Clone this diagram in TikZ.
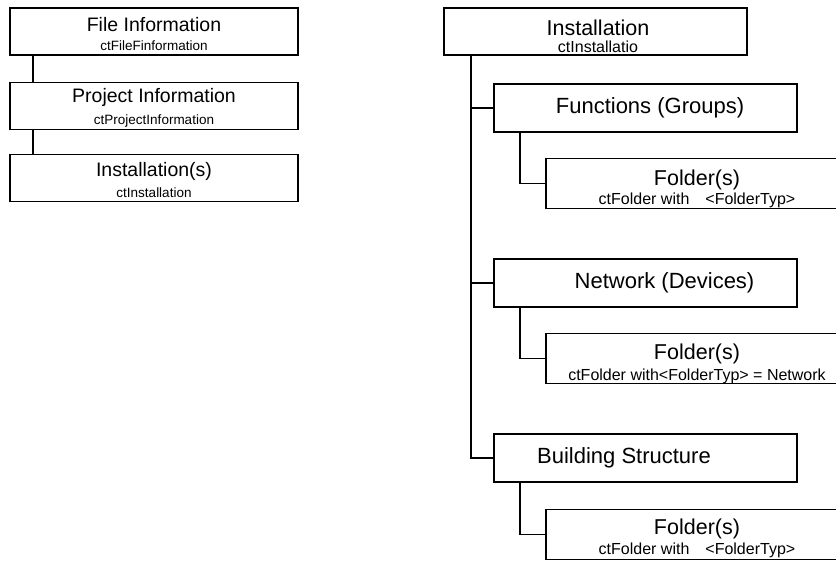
\documentclass[tikz,border=0pt]{standalone}
\usepackage{fontspec}
\setmainfont{Liberation Sans}
\usepackage{tikz}

\newcommand{\ftitle}[1]{\fontsize{#1}{#1}\selectfont}

\begin{document}
\begin{tikzpicture} [x=1pt, y=-1pt, line width=1.2pt,
	box/.style={draw, inner sep=0pt, minimum height=47pt, align=center},
	leftbox/.style={box, minimum width=288pt},
	midbox/.style={box, minimum width=303pt, minimum height=48pt},
	foldbox/.style={box, minimum width=302pt, minimum height=50pt},
	foldtext/.style={align=center, inner sep=0pt}]
	\useasboundingbox (0,0) rectangle (836,568);
	\clip (0,0) rectangle (836,568);

	% left column
	\node [leftbox] (fileinfo) at (154,31.5) {};
	\node [foldtext] (fileinfo-t) at ([yshift=-2pt]fileinfo.center) {\ftitle{19.5}File Information\\[7pt]\ftitle{13.5}ctFileFinformation};
	\node [leftbox] (projinfo) at (154,106) {};
	\node [foldtext] (projinfo-t) at ([yshift=-2pt]projinfo.center) {\ftitle{19.5}Project Information\\[7pt]\ftitle{13.5}ctProjectInformation};
	\node [leftbox] (instlist) at (154,178) {};
	\node [foldtext] (instlist-t) at ([yshift=-2pt]instlist.center) {\ftitle{19.5}Installation(s)\\[7pt]\ftitle{13.5}ctInstallation};
	\draw ([xshift=-121pt]fileinfo.south) -- ([xshift=-121pt]projinfo.north);
	\draw ([xshift=-121pt]projinfo.south) -- ([xshift=-121pt]instlist.north);

	% right column
	\node [box, minimum width=303pt] (inst) at (595.5,31.5) {};
	\node [foldtext] (inst-t) at ([xshift=2.5pt, yshift=-5pt]inst.center) {\ftitle{21.5}Installation\\[5pt]\ftitle{16}ctInstallatio};

	\node [midbox] (func) at (645.5,108) {};
	\node (func-t) at ([xshift=4.5pt]func.center) {\ftitle{22}Functions (Groups)};
	\node [midbox] (net) at (645.5,283) {};
	\node (net-t) at ([xshift=19pt]net.center) {\ftitle{22}Network (Devices)};
	\node [midbox] (build) at (645.5,458) {};
	\node (build-t) at ([xshift=-21.5pt]build.center) {\ftitle{22}Building Structure};

	\node [foldbox] (fold1) at (697,183.5) {};
	\node [foldtext] (fold1-t) at ([yshift=-5.5pt]fold1.center) {\ftitle{21.5}Folder(s)\\[2pt]\ftitle{16}ctFolder with\hspace{1em}<FolderTyp>};
	\node [foldbox] (fold2) at (697,358.5) {};
	\node [foldtext] (fold2-t) at ([yshift=-5pt]fold2.center) {\ftitle{21.5}Folder(s)\\[4pt]\ftitle{16}ctFolder with<FolderTyp> = Network};
	\node [foldbox] (fold3) at (697,534.5) {};
	\node [foldtext] (fold3-t) at ([yshift=-4pt]fold3.center) {\ftitle{21.5}Folder(s)\\[3pt]\ftitle{16}ctFolder with\hspace{1em}<FolderTyp>};

	\coordinate (trunk) at ([xshift=-124.5pt]inst.south);
	\draw (trunk) |- (build.west);
	\draw (func.west) -- (func.west -| trunk);
	\draw (net.west) -- (net.west -| trunk);
	\draw ([xshift=-125.5pt]func.south) |- (fold1.west);
	\draw ([xshift=-125.5pt]net.south) |- (fold2.west);
	\draw ([xshift=-125.5pt]build.south) |- (fold3.west);
\end{tikzpicture}
\end{document}
